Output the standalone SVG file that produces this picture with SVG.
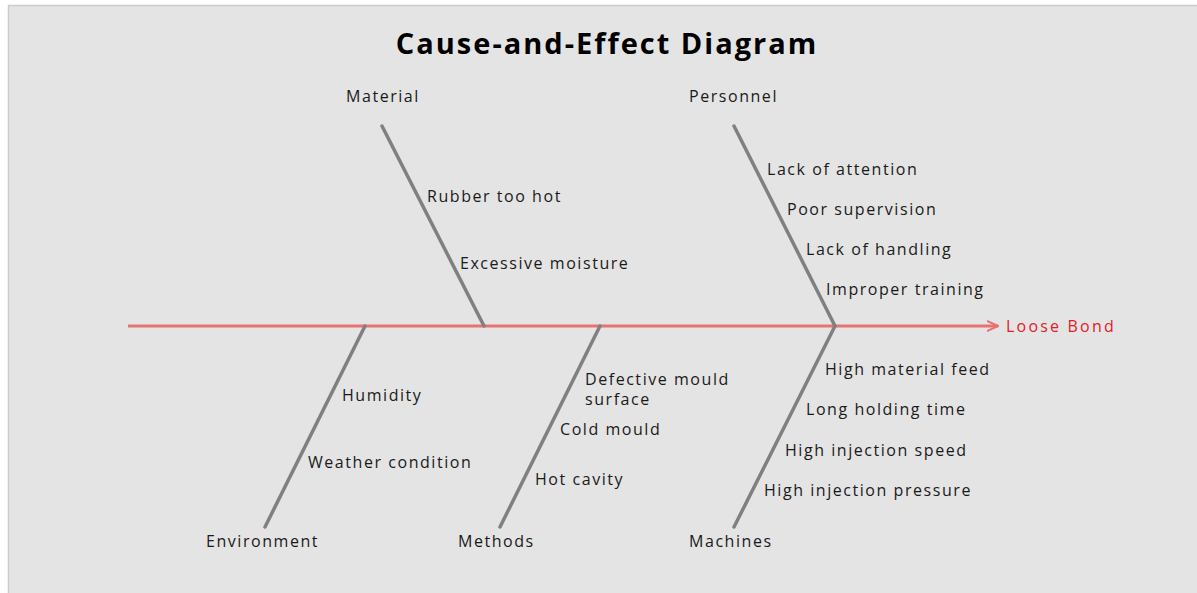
<svg xmlns="http://www.w3.org/2000/svg" width="1197" height="593" viewBox="0 0 1197 593">
<style>
text{font-family:"Open Sans","Noto Sans","Liberation Sans",sans-serif;fill:#1a1a1a;font-size:16px;letter-spacing:1.55px}
.title{font-size:29px;font-weight:bold;fill:#000;letter-spacing:2px}
.bone{stroke:#808080;stroke-width:3.5;fill:none;stroke-linecap:round}
.spine{stroke:#e87272;stroke-width:3;fill:none}
.effect{fill:#e0202a;letter-spacing:2.2px}
</style>
<defs>
<marker id="arrow" viewBox="0 0 12 12" refX="11" refY="6" markerWidth="12" markerHeight="12" markerUnits="userSpaceOnUse" orient="auto">
<path d="M0,1 L11,6 L0,11" fill="none" stroke="#e87272" stroke-width="2"/>
</marker>
</defs>
<rect x="8.5" y="5.5" width="1200" height="600" fill="#e4e4e4" stroke="#cccccc" stroke-width="1.5"/>
<text class="title" x="607" y="54" text-anchor="middle">Cause-and-Effect Diagram</text>
<g id="connectors">
<line class="spine" x1="128" y1="326" x2="998" y2="326" marker-end="url(#arrow)"/>
<line class="bone" x1="382" y1="126" x2="484" y2="326"/>
<line class="bone" x1="734" y1="126" x2="835" y2="326"/>
<line class="bone" x1="365" y1="326" x2="265" y2="527"/>
<line class="bone" x1="600" y1="326" x2="500" y2="527"/>
<line class="bone" x1="835" y1="326" x2="734" y2="527"/>
</g>
<g id="effect"><text class="effect" x="1006" y="332">Loose Bond</text></g>
<g id="material">
<text x="346" y="102">Material</text>
<text x="427" y="202">Rubber too hot</text>
<text x="460" y="269">Excessive moisture</text>
</g>
<g id="personnel">
<text x="689" y="102">Personnel</text>
<text x="767" y="175">Lack of attention</text>
<text x="787" y="215">Poor supervision</text>
<text x="806" y="255">Lack of handling</text>
<text x="826" y="295">Improper training</text>
</g>
<g id="environment">
<text x="206" y="547">Environment</text>
<text x="342" y="401">Humidity</text>
<text x="308" y="468">Weather condition</text>
</g>
<g id="methods">
<text x="458" y="547">Methods</text>
<text x="585" y="385">Defective mould</text>
<text x="585" y="405">surface</text>
<text x="560" y="435">Cold mould</text>
<text x="535" y="485">Hot cavity</text>
</g>
<g id="machines">
<text x="689" y="547">Machines</text>
<text x="825" y="375">High material feed</text>
<text x="806" y="415">Long holding time</text>
<text x="785" y="456">High injection speed</text>
<text x="764" y="496">High injection pressure</text>
</g>
</svg>
